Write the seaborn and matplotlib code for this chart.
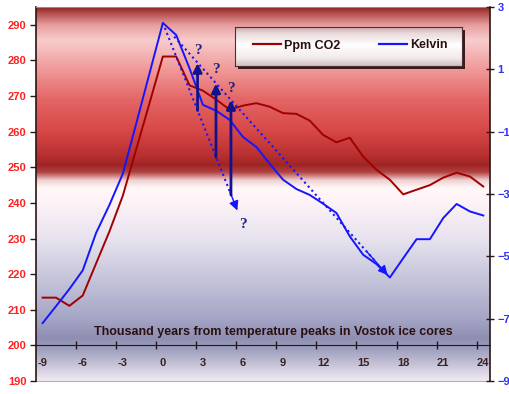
import numpy as np
import pandas as pd
import matplotlib
matplotlib.use("Agg")
import matplotlib.pyplot as plt
import seaborn as sns
from matplotlib.lines import Line2D
from matplotlib.patches import Rectangle
from matplotlib.colors import to_rgb

# ============================================
# Data
# ============================================
years = list(range(-9, 25))
co2_ppm = [213.4, 213.4, 211.1, 214.0, 223.0, 232.0, 242.0, 255.0, 268.0, 281.1,
           281.1, 273.0, 271.5, 269.0, 266.2, 267.3, 268.0, 267.0, 265.2, 265.0,
           263.1, 259.1, 257.0, 258.3, 253.0, 249.3, 246.5, 242.4, 243.7, 245.0,
           247.1, 248.5, 247.4, 244.6]
kelvin = [-7.14, -6.60, -6.05, -5.45, -4.25, -3.35, -2.35, -0.75, 0.87, 2.49,
          2.10, 1.03, -0.14, -0.33, -0.62, -1.17, -1.49, -2.03, -2.54, -2.84,
          -3.03, -3.31, -3.61, -4.36, -4.95, -5.25, -5.68, -5.06, -4.45, -4.45,
          -3.77, -3.32, -3.56, -3.69]

co2_ticks = list(range(190, 300, 10))
k_ticks = list(range(-9, 4, 2))
x_labels = years[::3]

# annotation: steep / shallow dotted trend guesses, and the arrows between them
steep_start, steep_end = (0.0, 2.49), (5.58, -3.53)
shallow_start, shallow_end = (0.85, 2.05), (16.84, -5.60)
arrow_x = [2.6, 3.98, 5.1]
arrow_from = [-0.32, -1.82, -3.03]
arrow_to = [1.20, 0.54, 0.01]
question_pos = [(2.6, 1.62), (3.95, 0.98), (5.1, 0.40), (6.0, -3.99)]

df = pd.DataFrame({"year": years, "co2": co2_ppm, "kelvin": kelvin})

# ============================================
# Style
# ============================================
plt.rcParams["font.family"] = ["Liberation Sans", "DejaVu Sans"]
plt.rcParams["font.weight"] = "bold"

RED = "#A00000"
BLUE = "#1515FF"
NAVY = "#12128C"
DARK = "#2A1515"

fig = plt.figure(figsize=(5.1, 3.94), dpi=100)
ax = fig.add_axes([36 / 510, 13 / 394, 454 / 510, 374 / 394])
ax2 = ax.twinx()

# --- plot-area gradient (dark red band -> pink -> red -> white -> lavender) ---
stops = [
    (0.000, "#8E2525"), (0.013, "#B04848"), (0.048, "#E8A0A0"),
    (0.088, "#F8CCCC"), (0.168, "#F09898"), (0.249, "#E46464"),
    (0.329, "#D84848"), (0.396, "#B83030"), (0.422, "#A02424"),
    (0.441, "#B04040"), (0.463, "#F0D0D0"), (0.484, "#FFF8F8"),
    (0.516, "#FFF4F8"), (0.623, "#E6E2EE"), (0.730, "#C4C4DA"),
    (0.837, "#A4A4C6"), (0.885, "#8E8EB2"), (0.917, "#A0A0C0"),
    (1.000, "#F0EAF2"),
]
pos = np.array([s[0] for s in stops])
cols = np.array([to_rgb(s[1]) for s in stops])
f = np.linspace(0, 1, 400)
grad = np.stack([np.interp(f, pos, cols[:, i]) for i in range(3)], axis=1)
ax.imshow(grad[:, None, :], extent=(-9.5, 24.5, 190, 295), aspect="auto",
          zorder=0, interpolation="bilinear")

# --- series ---
sns.lineplot(data=df, x="year", y="co2", ax=ax, color=RED, linewidth=1.4,
             legend=False, zorder=3)
sns.lineplot(data=df, x="year", y="kelvin", ax=ax2, color=BLUE, linewidth=1.4,
             legend=False, zorder=3)

# --- axes ---
ax.set_xlim(-9.5, 24.5)
ax.set_ylim(190, 295)
ax2.set_ylim(-9, 3)
ax.set_xlabel("")
ax.set_ylabel("")
ax2.set_ylabel("")

ax.set_yticks(co2_ticks)
ax.tick_params(axis="y", direction="out", length=4, width=1, color=DARK,
               labelcolor="#FF2020", labelsize=8, pad=3)
ax2.set_yticks(k_ticks)
ax2.tick_params(axis="y", direction="inout", length=6, width=1, color=DARK,
                labelcolor="#3030FF", labelsize=8, pad=2.5)

ax.set_xticks(x_labels)
ax.set_xticklabels([str(v) for v in x_labels])
ax.set_xticks(np.arange(-6.5, 24, 3), minor=True)
ax.tick_params(axis="x", which="major", length=0, labelsize=8,
               labelcolor="#3A2020", pad=9)
ax.tick_params(axis="x", which="minor", direction="inout", length=6,
               width=1, color=DARK)

ax.spines["bottom"].set_position(("data", 200))
ax.spines["bottom"].set_color(DARK)
ax.spines["left"].set_color(DARK)
ax.spines["left"].set_linewidth(1.2)
ax.spines["right"].set_visible(False)
ax.spines["top"].set_color("#B08080")
ax.spines["top"].set_linewidth(0.8)
for s in ["left", "top", "bottom"]:
    ax2.spines[s].set_visible(False)
ax2.spines["right"].set_color(DARK)
ax2.spines["right"].set_linewidth(1.2)
ax.axhline(190, color="#C0A8B8", linewidth=0.8, zorder=1, clip_on=False)

ax.text(0.523, 0.132, "Thousand years from temperature peaks in Vostok ice cores",
        transform=ax.transAxes, ha="center", va="center", fontsize=9,
        color="#2A1010", zorder=4)

# --- annotations: dotted guesses + arrows + question marks ---
for (x0, y0), (x1, y1) in [(steep_start, steep_end), (shallow_start, shallow_end)]:
    dx, dy = x1 - x0, y1 - y0
    ax2.plot([x0, x1 - 0.06 * dx], [y0, y1 - 0.06 * dy], linestyle=(0, (1, 1.6)),
             color=BLUE, linewidth=1.5, zorder=4)
    ax2.annotate("", xy=(x1, y1), xytext=(x1 - 0.1 * dx, y1 - 0.1 * dy),
                 arrowprops=dict(arrowstyle="-|>", color=BLUE, lw=1.0,
                                 mutation_scale=14, shrinkA=0, shrinkB=0),
                 zorder=4)

for x, y0, y1 in zip(arrow_x, arrow_from, arrow_to):
    ax2.annotate("", xy=(x, y1), xytext=(x, y0),
                 arrowprops=dict(arrowstyle="-|>", color=NAVY, lw=2.0,
                                 mutation_scale=13, shrinkA=0, shrinkB=0),
                 zorder=5)

for x, y in question_pos:
    ax2.text(x, y, "?", ha="center", va="center", fontsize=11,
             family=["Liberation Serif", "DejaVu Serif"], color="#23237A",
             zorder=5)

# ============================================
# Legend box (gradient fill + drop shadow)
# ============================================
bx, by, bw, bh = 235, 27, 227, 39
shadow = Rectangle(((bx + 3) / 510, 1 - (by + bh + 3) / 394), bw / 510, bh / 394,
                   transform=fig.transFigure, facecolor="#3A1A1A",
                   edgecolor="none", zorder=1)
fig.add_artist(shadow)
lax = fig.add_axes([bx / 510, 1 - (by + bh) / 394, bw / 510, bh / 394])
lax.set_zorder(2)
lstops = [(0.0, "#C8A8A8"), (0.15, "#E8D8D8"), (0.45, "#FFFFFF"),
          (0.8, "#F2EAEA"), (1.0, "#CFC0C0")]
lp = np.array([s[0] for s in lstops])
lc = np.array([to_rgb(s[1]) for s in lstops])
g = np.linspace(0, 1, 100)
lgrad = np.stack([np.interp(g, lp, lc[:, i]) for i in range(3)], axis=1)
lax.imshow(lgrad[:, None, :], aspect="auto", extent=(0, 1, 0, 1))
lax.set_xticks([])
lax.set_yticks([])
for s in lax.spines.values():
    s.set_color("#4A3030")
    s.set_linewidth(0.8)

handles = [Line2D([], [], color=RED, linewidth=1.6),
           Line2D([], [], color=BLUE, linewidth=1.6)]
leg = fig.legend(handles, ["Ppm CO2", "Kelvin"], loc="center",
                 bbox_to_anchor=((bx + bw / 2 + 2) / 510, 1 - (by + bh / 2 - 1) / 394),
                 ncol=2, frameon=False, fontsize=9, handlelength=2.25,
                 handletextpad=0.25, columnspacing=3.1,
                 labelcolor="#2A1010")
leg.set_zorder(6)

fig.savefig("out.png", dpi=100)
plt.close(fig)
